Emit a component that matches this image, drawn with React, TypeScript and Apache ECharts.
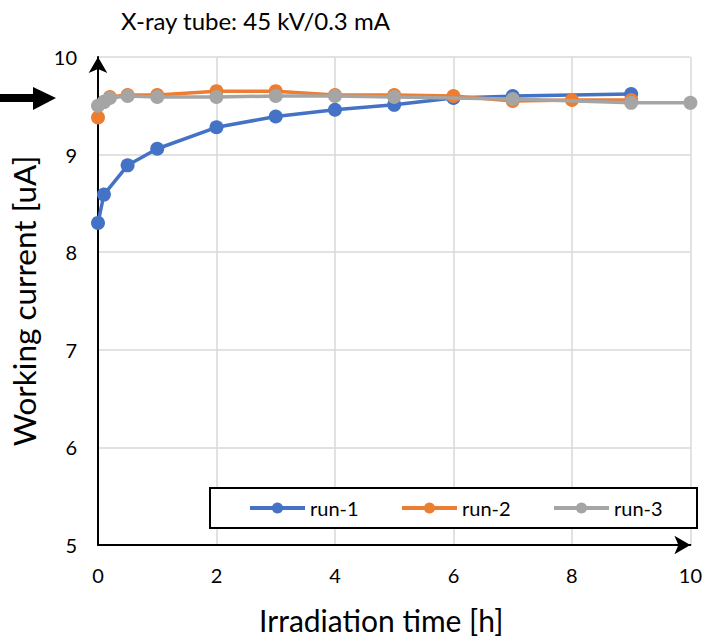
import React, { useEffect, useRef } from "react";
import * as echarts from "echarts";

const titleText = "X-ray tube: 45 kV/0.3 mA";
const xName = "Irradiation time [h]";
const yName = "Working current [uA]";

const t1 = [0, 0.1, 0.5, 1, 2, 3, 4, 5, 6, 7, 9];
const run1 = [8.3, 8.59, 8.89, 9.06, 9.28, 9.39, 9.46, 9.51, 9.58, 9.6, 9.62];

const t2 = [0, 0.1, 0.2, 0.5, 1, 2, 3, 4, 5, 6, 7, 8, 9];
const run2 = [9.38, 9.54, 9.59, 9.61, 9.61, 9.65, 9.65, 9.61, 9.61, 9.6, 9.55, 9.56, 9.56];

const t3 = [0, 0.1, 0.2, 0.5, 1, 2, 3, 4, 5, 7, 9, 10];
const run3 = [9.5, 9.54, 9.58, 9.6, 9.59, 9.59, 9.6, 9.6, 9.59, 9.57, 9.53, 9.53];

const seriesNames = ["run-1", "run-2", "run-3"];
const colors = ["#4472C4", "#ED7D31", "#A5A5A5"];

const FONT = "Lato, 'Open Sans', sans-serif";

function pairs(xs: number[], ys: number[]) {
  return xs.map((x, i) => [x, ys[i]]);
}

export default function App() {
  const ref = useRef<HTMLDivElement>(null);
  useEffect(() => {
    if (!ref.current) return;
    const chart = echarts.init(ref.current, null, { renderer: "svg" });
    const datasets = [pairs(t1, run1), pairs(t2, run2), pairs(t3, run3)];
    chart.setOption({
      animation: false,
      backgroundColor: "#fff",
      textStyle: { fontFamily: FONT },
      title: {
        text: titleText,
        left: 116,
        top: 3,
        textStyle: { fontFamily: FONT, fontSize: 24, fontWeight: "normal", color: "#000" },
      },
      grid: { left: 96, right: 9, top: 57, bottom: 98, containLabel: false },
      legend: {
        left: 210,
        top: 488,
        padding: [10, 33, 10, 38],
        itemGap: 40,
        itemWidth: 55,
        itemHeight: 14,
        backgroundColor: "#fff",
        borderColor: "#000",
        borderWidth: 2,
        borderRadius: 0,
        lineStyle: { width: 4 },
        textStyle: { fontFamily: FONT, fontSize: 20, color: "#000", width: 50, lineHeight: 20 },
        data: seriesNames,
      },
      xAxis: {
        type: "value",
        min: 0,
        max: 10,
        interval: 2,
        name: xName,
        nameLocation: "middle",
        nameGap: 60,
        nameTextStyle: { fontFamily: FONT, fontSize: 30, color: "#000", padding: [0, 26, 0, 0] },
        axisLine: {
          show: true,
          onZero: false,
          symbol: ["none", "arrow"],
          symbolSize: [14, 16],
          lineStyle: { color: "#000", width: 2 },
        },
        axisTick: { show: false },
        axisLabel: { fontFamily: FONT, fontSize: 20, color: "#000", margin: 20 },
        splitLine: { show: true, lineStyle: { color: "#d9d9d9", width: 1.5 } },
      },
      yAxis: {
        type: "value",
        min: 5,
        max: 10,
        interval: 1,
        name: yName,
        nameLocation: "middle",
        nameGap: 58,
        nameTextStyle: { fontFamily: FONT, fontSize: 31.5, color: "#000" },
        axisLine: {
          show: true,
          onZero: false,
          symbol: ["none", "arrow"],
          symbolSize: [14, 16],
          lineStyle: { color: "#000", width: 2 },
        },
        axisTick: { show: false },
        axisLabel: { fontFamily: FONT, fontSize: 20, color: "#000", margin: 21 },
        splitLine: { show: true, lineStyle: { color: "#d9d9d9", width: 1.5 } },
      },
      series: seriesNames.map((name, i) => ({
        name,
        type: "line",
        data: datasets[i],
        symbol: "circle",
        symbolSize: 14,
        showSymbol: true,
        color: colors[i],
        lineStyle: { color: colors[i], width: 3.5 },
        itemStyle: { color: colors[i] },
        z: 2 + i,
      })),
      graphic: [
        {
          type: "rect",
          left: 0,
          top: 94,
          shape: { x: 0, y: 0, width: 36, height: 8 },
          style: { fill: "#000" },
        },
        {
          type: "polygon",
          shape: { points: [[33, 87], [56, 98], [33, 110]] },
          style: { fill: "#000" },
        },
      ],
    });
    return () => chart.dispose();
  }, []);
  return (
    <div
      ref={ref}
      style={{ position: "fixed", left: 0, top: 0, width: 705, height: 643 }}
    />
  );
}
